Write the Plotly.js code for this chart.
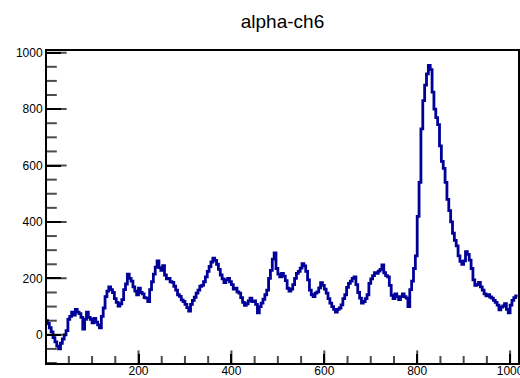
<!DOCTYPE html>
<html>
<head>
<meta charset="utf-8">
<script src="https://cdn.plot.ly/plotly-3.0.1.min.js"></script>
<style>html,body{margin:0;padding:0;background:#fff;}#chart{width:520px;height:378px;}</style>
</head>
<body>
<div id="chart"></div>
<script>
// Histogram "alpha-ch6": bin width 4, first bin starts at 0
const binStart = 0;
const binWidth = 4;
const counts = [
  50, 40, 25, 10, -10, -25, -40, -50, -30, -15,
  0, 15, 55, 65, 80, 70, 90, 80, 75, 62,
  20, 55, 80, 62, 55, 42, 58, 45, 35, 25,
  65, 95, 135, 155, 170, 160, 150, 128, 115, 102,
  110, 125, 160, 180, 215, 200, 190, 170, 155, 142,
  165, 150, 145, 132, 130, 118, 160, 188, 215, 240,
  262, 238, 228, 245, 212, 198, 200, 188, 186, 172,
  158, 142, 136, 124, 118, 108, 96, 84, 108, 122,
  133, 148, 158, 172, 175, 188, 205, 225, 242, 258,
  272, 264, 250, 232, 212, 198, 185, 195, 200, 188,
  178, 162, 165, 152, 148, 132, 115, 104, 110, 120,
  130, 118, 120, 108, 78, 100, 112, 126, 142, 158,
  200, 228, 268, 290, 235, 215, 205, 218, 208, 192,
  165, 155, 162, 178, 200, 218, 225, 236, 252, 244,
  225, 195, 158, 142, 135, 148, 152, 166, 185, 175,
  162, 148, 128, 112, 100, 90, 80, 90, 95, 106,
  128, 142, 168, 182, 190, 200, 205, 178, 150, 130,
  112, 118, 128, 142, 182, 198, 210, 220, 218, 226,
  232, 248, 220, 210, 205, 175, 140, 128, 145, 135,
  125, 135, 145, 135, 130, 100, 160, 190, 235, 280,
  420, 540, 730, 830, 885, 925, 955, 940, 860, 800,
  770, 745, 670, 615, 590, 540, 480, 440, 400, 360,
  335, 315, 280, 260, 250, 262, 295, 285, 265, 235,
  195, 175, 178, 186, 170, 158, 145, 138, 142, 134,
  130, 122, 115, 105, 88, 98, 102, 110, 90, 78,
  105, 122, 132, 138
];
const xTickVals = [200, 400, 600, 800, 1000];
const yTickVals = [0, 200, 400, 600, 800, 1000];
const xRange = [3, 1017];
const yRange = [-100, 1006];
const minorStep = 50;

const W = 520, H = 378;
const margin = {l: 47, r: 2, t: 51, b: 15};

const xs = [], ys = [];
counts.forEach((c, i) => { xs.push(binStart + i * binWidth); ys.push(c); });
xs.push(binStart + counts.length * binWidth);
ys.push(counts[counts.length - 1]);

const fontFam = 'Liberation Sans, Arial, sans-serif';

// inward tick marks (ROOT style): line markers centred on the axis, outer half clipped
const xtX = [], xtY = [], xtS = [];
for (let v = Math.ceil(xRange[0] / minorStep) * minorStep; v <= xRange[1]; v += minorStep) {
  xtX.push(v); xtY.push(yRange[0]); xtS.push(v % 200 === 0 ? 18 : 10);
}
const ytX = [], ytY = [], ytS = [];
for (let v = Math.ceil(yRange[0] / minorStep) * minorStep; v <= yRange[1]; v += minorStep) {
  ytX.push(xRange[0]); ytY.push(v); ytS.push(v % 200 === 0 ? 28 : 14);
}

const layout = {
  width: W, height: H,
  margin: margin,
  paper_bgcolor: '#fff', plot_bgcolor: '#fff',
  showlegend: false,
  title: {text: 'alpha-ch6', x: 0.5, xref: 'paper', xanchor: 'center', y: 0.96, yref: 'container',
          font: {family: fontFam, size: 19, color: '#000'}},
  xaxis: {
    range: xRange, tickmode: 'array', tickvals: xTickVals,
    ticks: 'inside', ticklen: 9, tickwidth: 2, tickcolor: '#000',
    showgrid: false, zeroline: false,
    showline: true, linecolor: '#000', linewidth: 2, mirror: true,
    ticklabeloverflow: 'allow', ticklabelstandoff: -4,
    tickfont: {family: fontFam, size: 12, color: '#000'}
  },
  yaxis: {
    range: yRange, tickmode: 'array', tickvals: yTickVals,
    ticks: 'inside', ticklen: 14, tickwidth: 2, tickcolor: '#000',
    showgrid: false, zeroline: false,
    showline: true, linecolor: '#000', linewidth: 2, mirror: true,
    ticklabeloverflow: 'allow',
    tickfont: {family: fontFam, size: 12, color: '#000'}
  }
};

Plotly.newPlot('chart', [
  {
    type: 'scatter', mode: 'lines', x: xs, y: ys,
    line: {shape: 'hv', color: '#000099', width: 2.8},
    hoverinfo: 'skip'
  },
  {
    type: 'scatter', mode: 'markers', x: xtX, y: xtY, cliponaxis: true,
    marker: {symbol: 'line-ns', size: xtS, color: '#000', line: {color: '#000', width: 2}},
    hoverinfo: 'skip'
  },
  {
    type: 'scatter', mode: 'markers', x: ytX, y: ytY, cliponaxis: true,
    marker: {symbol: 'line-ew', size: ytS, color: '#000', line: {color: '#000', width: 2}},
    hoverinfo: 'skip'
  }
], layout, {displayModeBar: false});
</script>
</body>
</html>
